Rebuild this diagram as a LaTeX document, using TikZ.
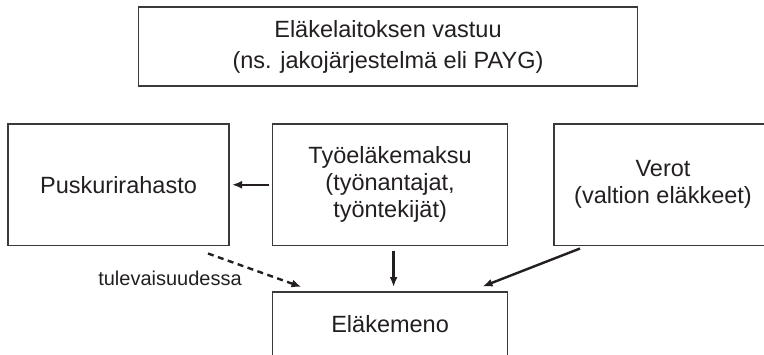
\documentclass[tikz,border=0pt]{standalone}
\usepackage{fontspec}
\setmainfont{Liberation Sans}
\usetikzlibrary{arrows.meta}
\definecolor{ink}{HTML}{231F20}
\definecolor{frame}{HTML}{3A3A3A}
\tikzset{
  box/.style={draw=frame, line width=1.5pt, inner sep=0pt, outer sep=0pt, align=center, text=ink,
              font=\fontsize{23.5}{27}\selectfont},
  arr/.style={draw=ink, line width=2.4pt, -{Latex[length=10pt,width=8pt]}},
  lbl/.style={text=ink, inner sep=0pt, font=\fontsize{20}{24}\selectfont}
}
\begin{document}
\begin{tikzpicture}[x=1pt,y=-1pt]
\useasboundingbox (0,0) rectangle (764,354);
\node[box, minimum width=499pt, minimum height=79pt, font=\fontsize{23.5}{31}\selectfont] (top) at (388,46.5)
  {Eläkelaitoksen vastuu\\(ns. jakojärjestelmä eli PAYG)};
\node[box, minimum width=221pt, minimum height=121.5pt] (left) at (118.5,184.75) {Puskurirahasto};
\node[box, minimum width=235.2pt, minimum height=121.5pt] (mid) at (390.1,184.75)
  {Työeläkemaksu\\(työnantajat,\\työntekijät)};
\node[box, minimum width=218pt, minimum height=121.5pt] (right) at (663,184.75)
  {Verot\\(valtion eläkkeet)};
\node[box, minimum width=235.2pt, minimum height=64pt] (bot) at (390.1,324) {Eläkemeno};
\node[lbl] (fut) at (170,278) {tulevaisuudessa};
\draw[arr] ([xshift=-4]mid.west) -- ([xshift=3]left.east);
\draw[arr] ([shift={(3.5,5)}]mid.south) -- ([shift={(3.5,-5)}]bot.north);
\draw[arr] ([shift={(26,3)}]right.south west) -- ([shift={(210,-5.5)}]bot.north west);
\draw[arr, dash pattern=on 6pt off 4.5pt] ([shift={(-21,8)}]left.south east) -- ([shift={(29,-5)}]bot.north west);
\end{tikzpicture}
\end{document}
